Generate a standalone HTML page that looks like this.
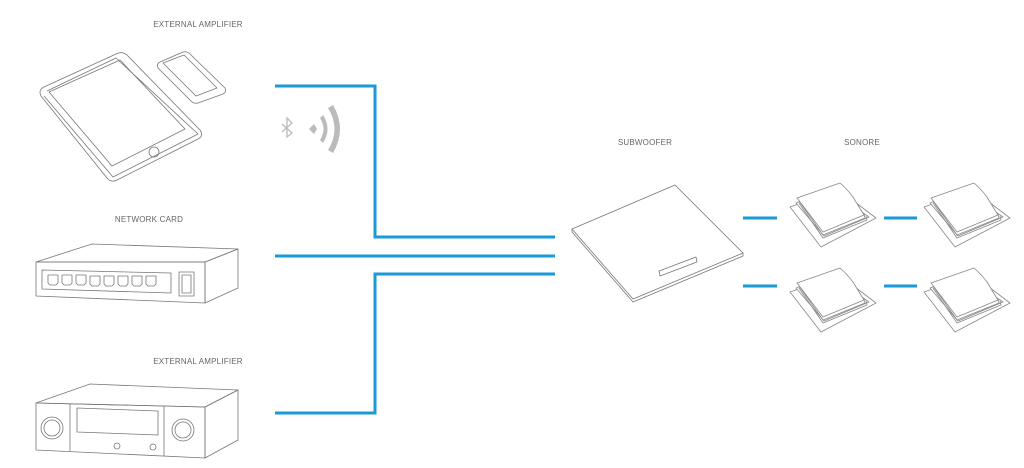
<!DOCTYPE html>
<html><head><meta charset="utf-8"><style>
html,body{margin:0;padding:0;background:#fff;}
svg{display:block}
text{font-family:"Liberation Sans",sans-serif;font-size:8px;fill:#666;letter-spacing:0.2px}
</style></head><body>
<svg width="1024" height="468" viewBox="0 0 1024 468" xmlns="http://www.w3.org/2000/svg">
<g fill="none" stroke="#1a9ad6" stroke-width="3">
<polyline points="275,86 375,86 375,237 555,237"/>
<line x1="275" y1="256" x2="555" y2="256"/>
<polyline points="275,413 375,413 375,274 555,274"/>
<line x1="743" y1="218" x2="777" y2="218"/>
<line x1="884" y1="218" x2="917" y2="218"/>
<line x1="743" y1="286" x2="777" y2="286"/>
<line x1="884" y1="286" x2="917" y2="286"/>
</g>
<text x="198" y="27" text-anchor="middle">EXTERNAL AMPLIFIER</text>
<text x="149" y="222" text-anchor="middle">NETWORK CARD</text>
<text x="198" y="364" text-anchor="middle">EXTERNAL AMPLIFIER</text>
<text x="645" y="145" text-anchor="middle">SUBWOOFER</text>
<text x="862" y="145" text-anchor="middle">SONORE</text>

<g fill="none" stroke="#777" stroke-width="0.8" stroke-linejoin="round">
<path d="M44,87 L116,54 Q122,51 127,55 L200,130 Q204,136 198,139 L117,180 Q111,183 107,178 L41,96 Q38,90 44,87 Z"/>
<path d="M47,91 L116,58 L198,134 L113,177 L44,96"/>
<path d="M49,92 L120,60 L185,129 L112,166 Z"/>
<circle cx="154" cy="152" r="5"/>
<path d="M160,62 L183,52 Q187,51 190,54 L225,88 Q227,92 223,94 L198,103 Q194,104 191,101 L158,68 Q156,64 160,62 Z"/>
<path d="M163,63 L184,55 L217,88 L196,96 Z"/>
<polygon points="36,262 92,244 238,249 205,262"/>
<polygon points="36,262 205,262 205,303 36,296"/>
<polygon points="205,262 238,249 238,288 205,303"/>
<polygon points="42,270 171,273 171,293 42,289"/>
<g>
<path d="M48,275 h10 v8 l-2,2 h-6 l-2,-2 z"/>
<path d="M62,275 h10 v8 l-2,2 h-6 l-2,-2 z"/>
<path d="M76,275 h10 v8 l-2,2 h-6 l-2,-2 z"/>
<path d="M90,276 h10 v8 l-2,2 h-6 l-2,-2 z"/>
<path d="M104,276 h10 v8 l-2,2 h-6 l-2,-2 z"/>
<path d="M118,276 h10 v8 l-2,2 h-6 l-2,-2 z"/>
<path d="M132,276 h10 v8 l-2,2 h-6 l-2,-2 z"/>
<path d="M146,276 h10 v8 l-2,2 h-6 l-2,-2 z"/>
</g>
<rect x="179" y="272" width="15" height="24"/>
<rect x="182" y="275" width="9" height="18"/>
<polygon points="36,403 90,384 238,390 205,407"/>
<polygon points="36,403 205,407 205,458 36,450"/>
<polygon points="205,407 238,390 238,440 205,458"/>
<line x1="70" y1="404" x2="70" y2="451"/>
<line x1="164" y1="406" x2="164" y2="456"/>
<circle cx="52" cy="428" r="11"/><circle cx="52" cy="428" r="8"/>
<circle cx="183" cy="430" r="11"/><circle cx="183" cy="430" r="8"/>
<polygon points="77,408 158,411 158,435 77,432"/>
<circle cx="117" cy="446" r="3"/><circle cx="153" cy="447" r="3"/>
<polygon points="572,229 675,185 743,253 633,299"/>
<polyline points="572,229 572,232 633,302 743,256 743,253"/>
<polygon points="659,271 696,257 697,262 660,276"/>
</g>
<defs>
<g id="mod" fill="none" stroke="#888" stroke-width="0.8" stroke-linejoin="round">
<polygon points="-1,26 48,9 85,37 30,66" fill="#fff"/>
<polygon points="5,22 40,10 78,36 33,55" fill="#fff"/>
<polyline points="8,22 32,57 76,39 75,35"/>
<polyline points="8,20 32,54 74,37 73,33"/>
<path d="M6,17 L49,2 Q56,8 62,16 Q68,26 73,34 L32,51 Z" fill="#fff"/>
</g>
</defs>
<use href="#mod" x="791" y="181"/>
<use href="#mod" x="925" y="181"/>
<use href="#mod" x="791" y="266"/>
<use href="#mod" x="925" y="266"/>
<g fill="none" stroke="#bbb" stroke-width="1.3">
<polyline points="282,124 292,133 287,137 287,118 292,123 282,132"/>
</g>
<g fill="#bbb">
<polygon points="309,129 314,124 317,129 314,134"/>
<path d="M320,118 Q327,129 320,140 L323,143 Q332,129 323,115 Z"/>
<path d="M328,108 Q341,129 328,150 L333,153 Q347,129 333,105 Z"/>
</g>
</svg>
</body></html>
